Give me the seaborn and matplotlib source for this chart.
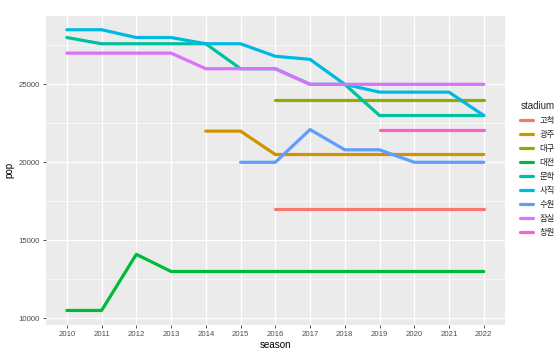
import numpy as np
import pandas as pd
import matplotlib
matplotlib.use("Agg")
import matplotlib.pyplot as plt
import seaborn as sns

nan = np.nan
seasons = [2010, 2011, 2012, 2013, 2014, 2015, 2016, 2017, 2018, 2019, 2020, 2021, 2022]
stadiums = ["고척", "광주", "대구", "대전", "문학", "사직", "수원", "잠실", "창원"]

gocheok = [nan, nan, nan, nan, nan, nan, 17000, 17000, 17000, 17000, 17000, 17000, 17000]
gwangju = [nan, nan, nan, nan, 22000, 22000, 20500, 20500, 20500, 20500, 20500, 20500, 20500]
daegu = [nan, nan, nan, nan, nan, nan, 24000, 24000, 24000, 24000, 24000, 24000, 24000]
daejeon = [10500, 10500, 14100, 13000, 13000, 13000, 13000, 13000, 13000, 13000, 13000, 13000, 13000]
munhak = [28000, 27600, 27600, 27600, 27600, 26000, 26000, 25000, 25000, 23000, 23000, 23000, 23000]
sajik = [28500, 28500, 28000, 28000, 27600, 27600, 26800, 26600, 25000, 24500, 24500, 24500, 23000]
suwon = [nan, nan, nan, nan, nan, 20000, 20000, 22100, 20800, 20800, 20000, 20000, 20000]
jamsil = [27000, 27000, 27000, 27000, 26000, 26000, 26000, 25000, 25000, 25000, 25000, 25000, 25000]
changwon = [nan, nan, nan, nan, nan, nan, nan, nan, nan, 22100, 22100, 22100, 22100]

series = [gocheok, gwangju, daegu, daejeon, munhak, sajik, suwon, jamsil, changwon]
palette = ["#F8766D", "#D39200", "#93AA00", "#00BA38", "#00C19F",
           "#00B9E3", "#619CFF", "#DB72FB", "#FF61C3"]

rows = []
for name, vals in zip(stadiums, series):
    for s, v in zip(seasons, vals):
        if not np.isnan(v):
            rows.append({"season": s, "pop": v, "stadium": name})
df = pd.DataFrame(rows)

sns.set_theme(style="darkgrid")
plt.rcParams["font.family"] = ["Liberation Sans", "Noto Sans CJK KR", "DejaVu Sans"]

fig = plt.figure(figsize=(5.59, 3.52), dpi=100)
fig.patch.set_facecolor("white")
ax = fig.add_axes([46 / 559, 1 - 324.5 / 352, (504.6 - 46) / 559, (324.5 - 15.7) / 352])
ax.set_facecolor("#EBEBEB")

sns.lineplot(data=df, x="season", y="pop", hue="stadium", hue_order=stadiums,
             palette=palette, linewidth=2.3, ax=ax, legend=True, sort=True)

ax.set_xlim(2009.4, 2022.6)
ax.set_ylim(9600, 29400)
ax.set_xticks(seasons)
ax.set_xticklabels([str(s) for s in seasons])
ax.set_yticks([10000, 15000, 20000, 25000])
ax.set_yticklabels(["10000", "15000", "20000", "25000"])
ax.set_yticks([12500, 17500, 22500, 27500], minor=True)

ax.grid(True, which="major", color="white", linewidth=0.9)
ax.grid(True, which="minor", axis="y", color="white", linewidth=0.45)
ax.set_axisbelow(True)
for sp in ax.spines.values():
    sp.set_visible(False)

ax.tick_params(axis="both", which="major", length=2.5, width=0.6, color="#333333",
               labelsize=5.6, labelcolor="#4D4D4D", pad=2, bottom=True, left=True)
ax.tick_params(axis="both", which="minor", length=0)

ax.set_xlabel("season", fontsize=7, color="black", labelpad=1.5)
ax.set_ylabel("pop", fontsize=7, color="black", labelpad=3)

handles, labels = ax.get_legend_handles_labels()
ax.get_legend().remove()
leg = fig.legend(handles, labels, title="stadium", loc="upper left",
                 bbox_to_anchor=(517 / 559, 1 - 98 / 352), frameon=False,
                 fontsize=6.0, title_fontsize=7, handlelength=1.5,
                 handletextpad=0.8, labelspacing=0.72, borderaxespad=0,
                 alignment="left")
for line in leg.get_lines():
    line.set_linewidth(2.3)

fig.savefig("out.png", dpi=100, facecolor="white")
